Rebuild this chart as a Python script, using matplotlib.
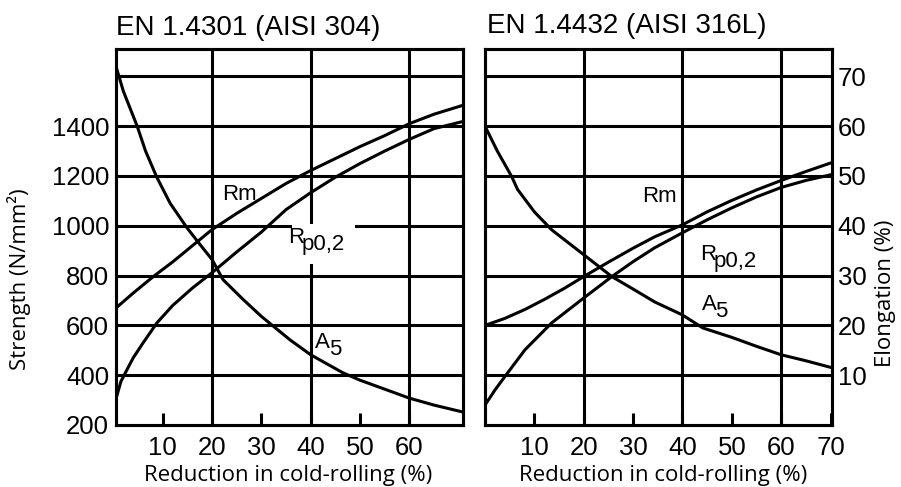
import numpy as np
import matplotlib.pyplot as plt

plt.rcParams['font.family'] = ['Liberation Sans', 'DejaVu Sans']

# EN 1.4301 (AISI 304): strength in N/mm2, elongation in %
x304_rm = [0.5, 4, 8, 12, 16, 20, 25, 30, 35, 40, 45, 50, 55, 60, 65, 70.9]
rm304 = [670, 730, 795, 855, 920, 985, 1050, 1110, 1170, 1222, 1270, 1318, 1362, 1410, 1448, 1484]
x304_rp = [0.5, 1.5, 2.7, 4, 6, 8.8, 12, 16, 20, 25, 30, 35, 40, 45, 50, 55, 60, 65, 70.9]
rp304 = [305, 375, 421, 470, 530, 610, 680, 750, 812, 895, 975, 1065, 1133, 1195, 1250, 1300, 1347, 1390, 1419]
x304_a5 = [0.5, 2, 4.8, 6.5, 8.8, 11.5, 14.9, 17.1, 20, 22.2, 26.3, 30, 35.8, 40, 46.5, 50, 55, 60, 65, 70.9]
a5_304 = [72, 67, 60, 55, 49.7, 44.5, 39.6, 36.8, 33.2, 29.2, 25.2, 21.8, 17.1, 14.1, 10.5, 9.0, 7.2, 5.4, 4.0, 2.6]

# EN 1.4432 (AISI 316L)
x316_rm = [0, 4, 8.1, 12, 16, 20, 25, 30, 34.4, 40, 45, 50, 55, 60, 65, 70.3]
rm316 = [600, 628, 664, 704, 748, 796, 854, 910, 956, 1004, 1056, 1102, 1144, 1182, 1218, 1254]
x316_rp = [0, 2, 4, 8.1, 13.5, 20, 25.7, 30, 34.4, 40, 45, 50, 55, 60, 65, 70.3]
rp316 = [280, 340, 394, 502, 610, 710, 796, 856, 912, 972, 1024, 1072, 1116, 1154, 1182, 1206]
x316_a5 = [0, 2.5, 5.4, 6.6, 10, 13.5, 17, 20, 25.7, 30, 34.4, 40, 44.1, 50, 55, 60, 65, 70.3]
a5_316 = [60, 55, 49.9, 47.3, 42.8, 39.2, 36.5, 34.2, 29.8, 27.3, 24.7, 22.1, 19.5, 17.6, 15.8, 14.1, 12.9, 11.5]

strength_ticks = [200, 400, 600, 800, 1000, 1200, 1400, 1600]
strength_labels = ['200', '400', '600', '800', '1000', '1200', '1400', '']
elong_ticks = [10, 20, 30, 40, 50, 60, 70]
grid_x = [20, 40, 60]

lw = 2.2
tick_fs = 18.5
lab_fs = 16

fig = plt.figure(figsize=(9.01, 4.87), dpi=100)
W, H = 901, 487


def panel(left, xlim, xticks, rx, rm, px, rp, ax5, a5):
    ax = fig.add_axes([left / W, 1 - 425 / H, 347 / W, 376 / H])
    ax.set_xlim(*xlim)
    ax.set_ylim(200, 1710)
    for g in strength_ticks[1:]:
        ax.axhline(g, color='k', lw=lw, zorder=1)
    for g in grid_x:
        ax.axvline(g, color='k', lw=lw, zorder=1)
    ax.plot(rx, rm, color='k', lw=lw, zorder=3)
    ax.plot(px, rp, color='k', lw=lw, zorder=3)
    ax.set_xticks(xticks)
    ax.set_xticklabels([str(t) for t in xticks])
    ax.tick_params(axis='x', direction='in', length=9, width=lw, pad=8,
                   labelsize=tick_fs)
    for s in ax.spines.values():
        s.set_linewidth(lw)
    tw = ax.twinx()
    tw.set_ylim(0, 75.5)
    tw.plot(ax5, a5, color='k', lw=lw, zorder=3)
    for s in tw.spines.values():
        s.set_linewidth(lw)
    return ax, tw


def label(ax, x, y, main, sub=None, box=False):
    ax.annotate(main, (x, y), ha='left', va='baseline', fontsize=lab_fs,
                zorder=6)
    if sub:
        # a white box behind the subscript also breaks the grid lines
        bb = dict(facecolor='white', edgecolor='none', pad=7) if box else None
        ax.annotate(sub, (x, y), xytext=(lab_fs * 0.62, -5),
                    textcoords='offset points', ha='left', va='baseline',
                    fontsize=lab_fs, zorder=5, bbox=bb)


ax1, tw1 = panel(116, (0.5, 70.9), [10, 20, 30, 40, 50, 60],
                 x304_rm, rm304, x304_rp, rp304, x304_a5, a5_304)
ax1.set_yticks(strength_ticks)
ax1.set_yticklabels(strength_labels)
ax1.tick_params(axis='y', length=0, pad=5, labelsize=tick_fs)
tw1.set_yticks([])
label(ax1, 22.0, 1105, 'Rm')
label(tw1, 35.4, (425 - 243) / 4.97, 'R', 'p0,2', box=True)
label(tw1, 40.9, (425 - 348) / 4.97, 'A', '5')

ax2, tw2 = panel(485, (0, 70.3), [10, 20, 30, 40, 50, 60, 70],
                 x316_rm, rm316, x316_rp, rp316, x316_a5, a5_316)
ax2.set_yticks(strength_ticks)
ax2.set_yticklabels([])
ax2.tick_params(axis='y', length=0)
tw2.set_yticks(elong_ticks)
tw2.tick_params(axis='y', length=0, pad=4, labelsize=tick_fs)
label(tw2, 31.9, 44.7, 'Rm')
label(tw2, 43.5, 33.2, 'R', 'p0,2')
label(tw2, 43.9, 23.1, 'A', '5')

fig.text(116 / W, 1 - 35 / H, 'EN 1.4301 (AISI 304)', fontsize=20,
         ha='left', va='baseline')
fig.text(487 / W, 1 - 33 / H, 'EN 1.4432 (AISI 316L)', fontsize=20,
         ha='left', va='baseline')

side = dict(family=['Open Sans', 'DejaVu Sans'], fontsize=16)
fig.text(288 / W, 1 - 475 / H, 'Reduction in cold-rolling (%)', ha='center',
         va='center', **side)
fig.text(663 / W, 1 - 475 / H, 'Reduction in cold-rolling (%)', ha='center',
         va='center', **side)
fig.text(19 / W, 1 - 279 / H, 'Strength (N/mm²)', rotation=90, ha='center',
         va='center', **side)
fig.text(886 / W, 1 - 293 / H, 'Elongation (%)', rotation=90, ha='center',
         va='center', **side)

fig.savefig('out.png', dpi=100)
